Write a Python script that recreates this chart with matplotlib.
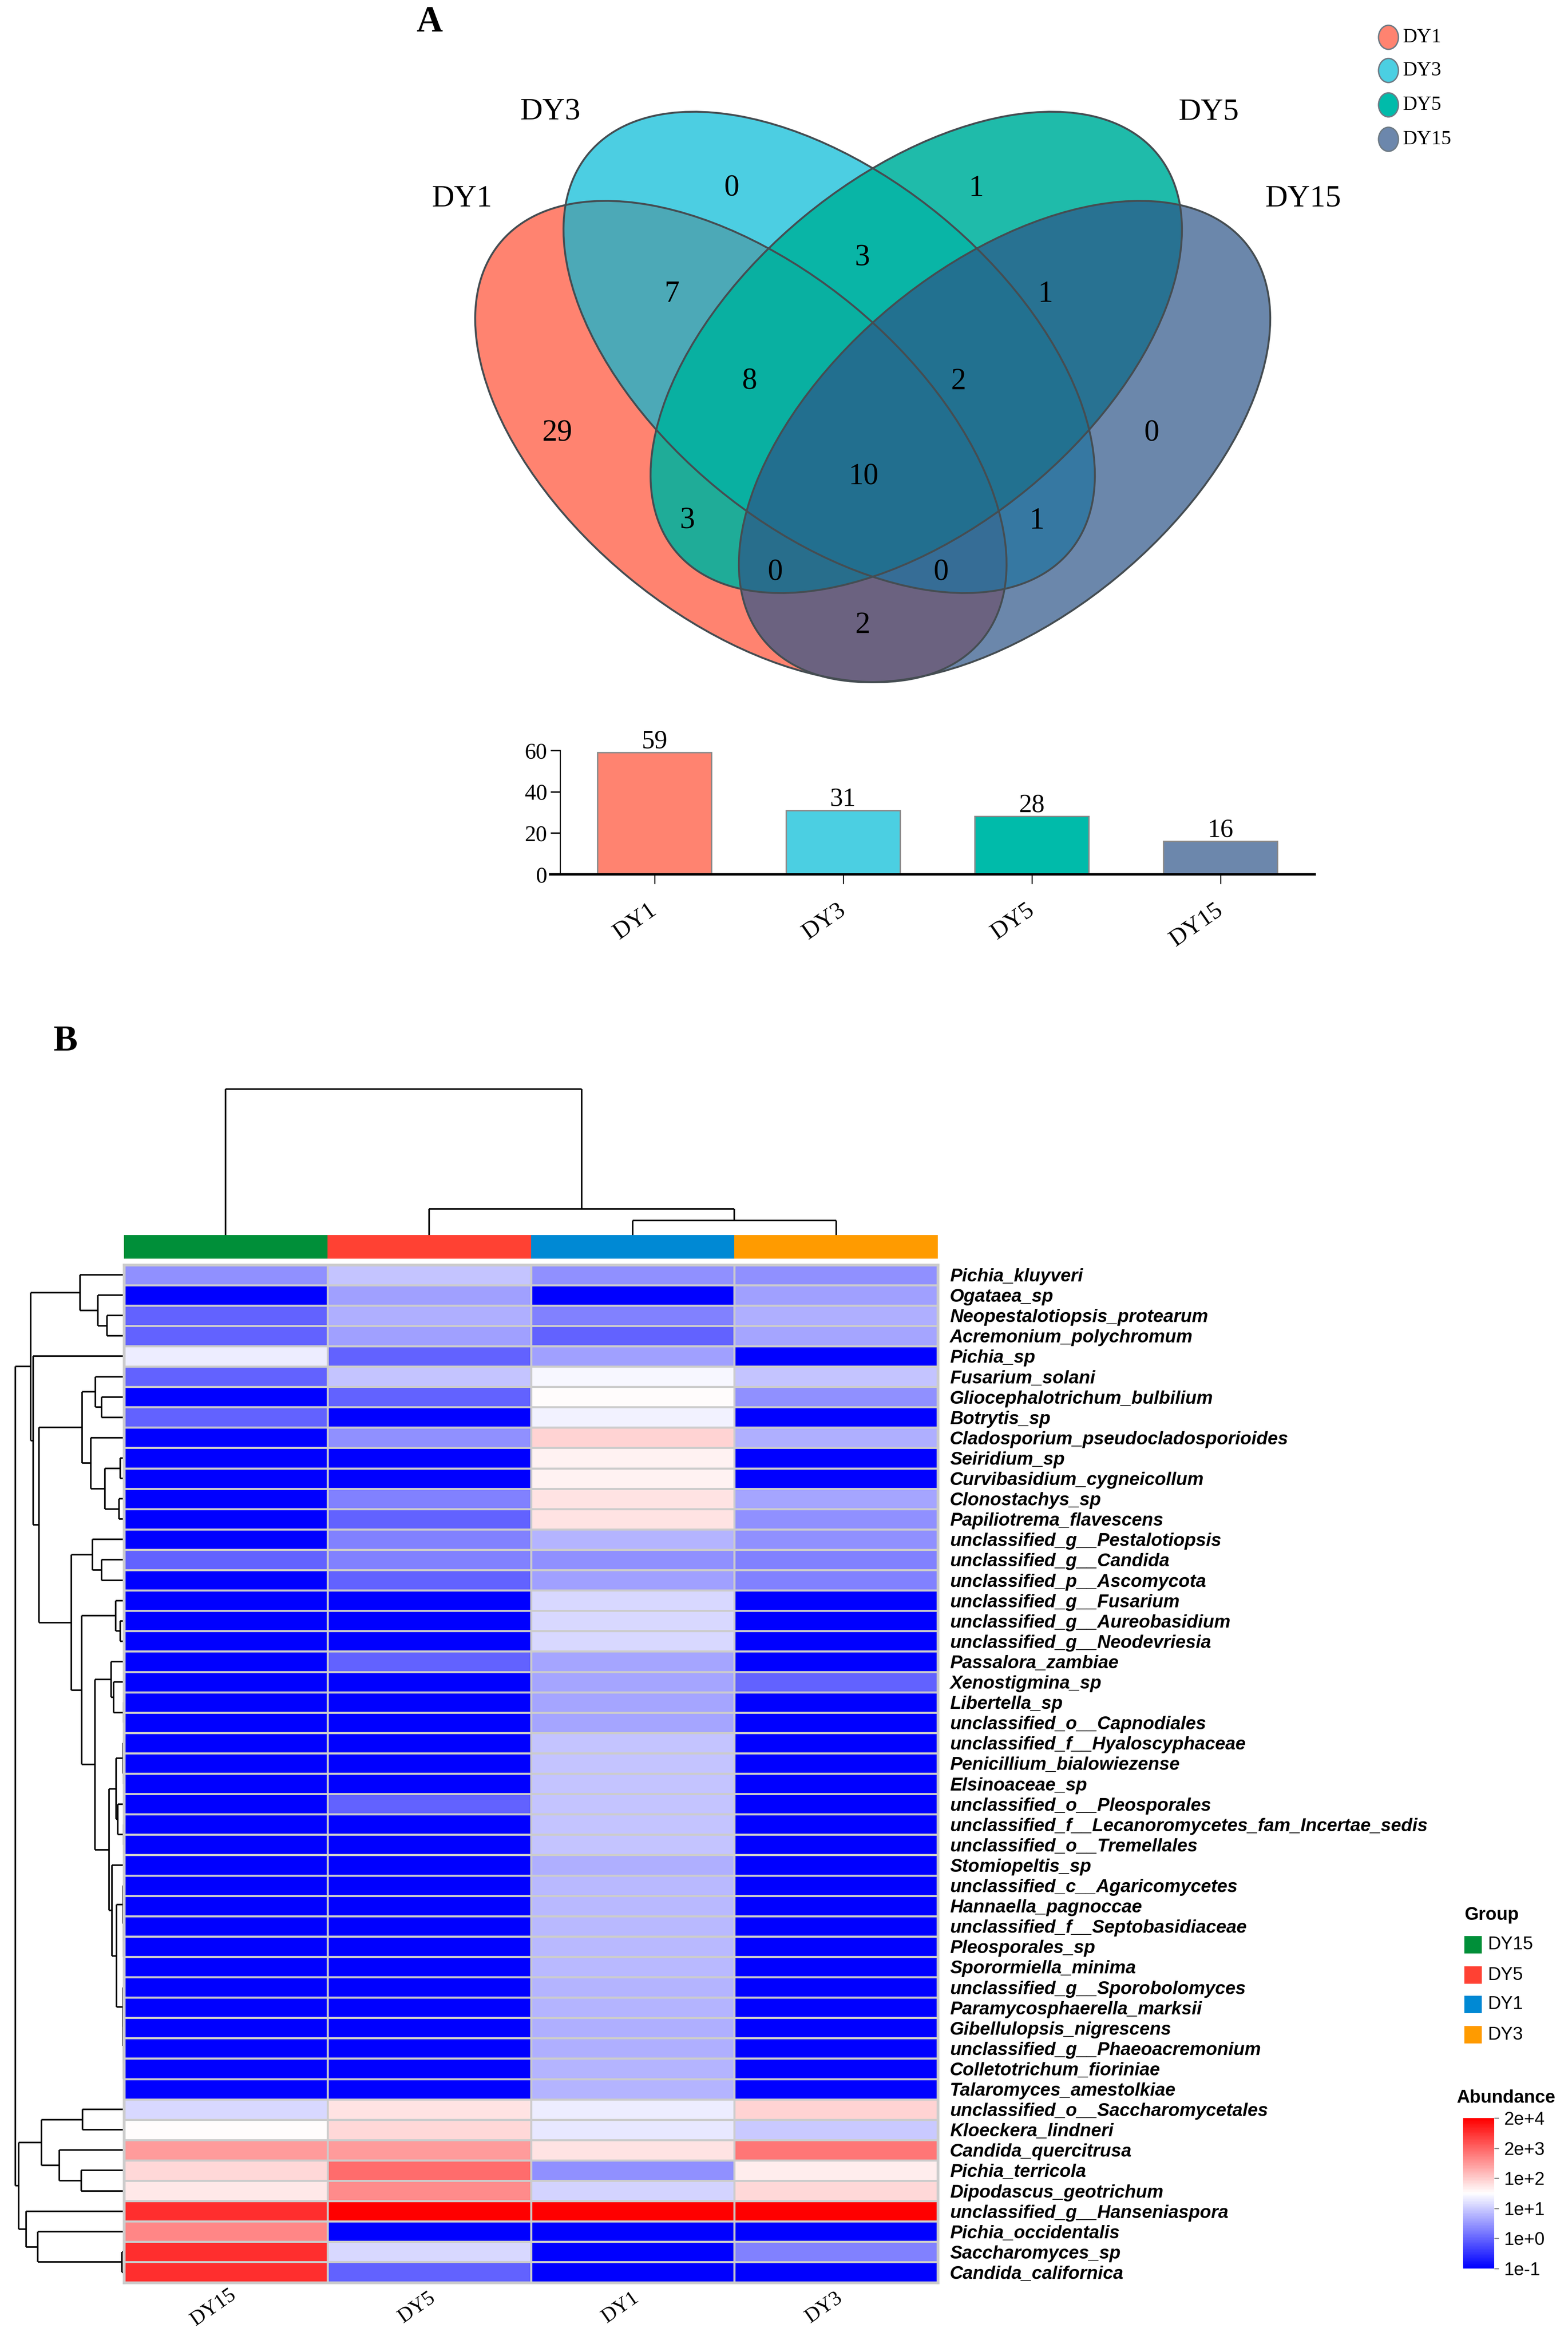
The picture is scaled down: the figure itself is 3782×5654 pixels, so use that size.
import numpy as np
import matplotlib
matplotlib.use("Agg")
import matplotlib.pyplot as plt
from matplotlib.patches import Ellipse, Rectangle
from matplotlib.colors import LinearSegmentedColormap, Normalize, to_rgb
from matplotlib.collections import LineCollection

# ---------------- DATA ----------------
venn_sets = ["DY1", "DY3", "DY5", "DY15"]
venn_colors = ["#FF8370", "#4BCFE2", "#00BBAA", "#6C87AC"]
venn_region_sets = [
    ("DY1",), ("DY3",), ("DY5",), ("DY15",),
    ("DY1", "DY3"), ("DY3", "DY5"), ("DY5", "DY15"),
    ("DY1", "DY5"), ("DY3", "DY15"), ("DY1", "DY15"),
    ("DY1", "DY3", "DY5"), ("DY3", "DY5", "DY15"),
    ("DY1", "DY5", "DY15"), ("DY1", "DY3", "DY15"),
    ("DY1", "DY3", "DY5", "DY15"),
]
venn_region_counts = [29, 0, 1, 0, 7, 3, 1, 3, 1, 2, 8, 2, 0, 0, 10]

bar_labels = ["DY1", "DY3", "DY5", "DY15"]
bar_values = [59, 31, 28, 16]

hm_columns = ["DY15", "DY5", "DY1", "DY3"]
group_colors = ["#008F39", "#FF4133", "#0089D4", "#FF9B00"]
hm_rows = [
    "Pichia_kluyveri", "Ogataea_sp", "Neopestalotiopsis_protearum", "Acremonium_polychromum",
    "Pichia_sp", "Fusarium_solani", "Gliocephalotrichum_bulbilium", "Botrytis_sp",
    "Cladosporium_pseudocladosporioides", "Seiridium_sp", "Curvibasidium_cygneicollum",
    "Clonostachys_sp", "Papiliotrema_flavescens", "unclassified_g__Pestalotiopsis",
    "unclassified_g__Candida", "unclassified_p__Ascomycota", "unclassified_g__Fusarium",
    "unclassified_g__Aureobasidium", "unclassified_g__Neodevriesia", "Passalora_zambiae",
    "Xenostigmina_sp", "Libertella_sp", "unclassified_o__Capnodiales",
    "unclassified_f__Hyaloscyphaceae", "Penicillium_bialowiezense", "Elsinoaceae_sp",
    "unclassified_o__Pleosporales", "unclassified_f__Lecanoromycetes_fam_Incertae_sedis",
    "unclassified_o__Tremellales", "Stomiopeltis_sp", "unclassified_c__Agaricomycetes",
    "Hannaella_pagnoccae", "unclassified_f__Septobasidiaceae", "Pleosporales_sp",
    "Sporormiella_minima", "unclassified_g__Sporobolomyces", "Paramycosphaerella_marksii",
    "Gibellulopsis_nigrescens", "unclassified_g__Phaeoacremonium", "Colletotrichum_fioriniae",
    "Talaromyces_amestolkiae", "unclassified_o__Saccharomycetales", "Kloeckera_lindneri",
    "Candida_quercitrusa", "Pichia_terricola", "Dipodascus_geotrichum",
    "unclassified_g__Hanseniaspora", "Pichia_occidentalis", "Saccharomyces_sp",
    "Candida_californica",
]
# colour-scale position (0 = 1e-1 ... 5 = 2e+4), columns DY15, DY5, DY1, DY3
hm_values = [
    [1.45, 1.92, 1.45, 1.45], [0.00, 1.55, 0.00, 1.55], [0.97, 1.70, 1.25, 1.70],
    [0.97, 1.55, 0.97, 1.65], [2.30, 0.97, 1.55, 0.00], [0.97, 1.92, 2.42, 1.92],
    [0.00, 0.97, 2.50, 1.45], [0.97, 0.00, 2.38, 0.00], [0.00, 1.45, 2.92, 1.70],
    [0.00, 0.00, 2.63, 0.00], [0.00, 0.00, 2.62, 0.00], [0.00, 1.25, 2.78, 1.65],
    [0.00, 0.97, 2.76, 1.45], [0.00, 1.25, 1.75, 1.45], [0.97, 1.25, 1.45, 1.25],
    [0.00, 0.97, 1.55, 1.25], [0.00, 0.00, 2.14, 0.00], [0.00, 0.00, 2.12, 0.00],
    [0.00, 0.00, 2.10, 0.00], [0.00, 0.97, 1.65, 0.00], [0.00, 0.00, 1.65, 0.97],
    [0.00, 0.00, 1.65, 0.00], [0.00, 0.00, 1.65, 0.00], [0.00, 0.00, 1.92, 0.00],
    [0.00, 0.00, 1.92, 0.00], [0.00, 0.00, 1.92, 0.00], [0.00, 0.97, 1.92, 0.00],
    [0.00, 0.00, 1.92, 0.00], [0.00, 0.00, 1.92, 0.00], [0.00, 0.00, 1.70, 0.00],
    [0.00, 0.00, 1.82, 0.00], [0.00, 0.00, 1.82, 0.00], [0.00, 0.00, 1.82, 0.00],
    [0.00, 0.00, 1.80, 0.00], [0.00, 0.00, 1.82, 0.00], [0.00, 0.00, 1.75, 0.00],
    [0.00, 0.00, 1.75, 0.00], [0.00, 0.00, 1.73, 0.00], [0.00, 0.00, 1.73, 0.00],
    [0.00, 0.00, 1.75, 0.00], [0.00, 0.00, 1.75, 0.00], [2.14, 2.76, 2.32, 2.92],
    [2.50, 2.86, 2.25, 1.96], [3.45, 3.45, 2.76, 3.82], [2.88, 3.90, 1.45, 2.67],
    [2.70, 3.60, 2.06, 2.88], [4.53, 5.00, 5.00, 5.00], [3.67, 0.00, 0.00, 0.00],
    [4.53, 2.14, 0.00, 1.25], [4.53, 0.97, 0.00, 0.00],
]
cbar_tick_labels = ["1e-1", "1e+0", "1e+1", "1e+2", "2e+3", "2e+4"]

# row dendrogram merges (left, right, height); leaves 0..49, new ids from 50
row_merges = [
    (2, 3, 41), (1, 50, 63), (0, 51, 106),
    (6, 7, 54), (5, 53, 69),
    (9, 10, 9), (11, 12, 12), (55, 56, 46), (8, 57, 80), (54, 58, 101),
    (14, 15, 54), (13, 60, 76),
    (17, 18, 9), (16, 62, 20),
    (21, 22, 1), (20, 64, 25), (19, 65, 31),
    (24, 25, 1), (23, 67, 2), (27, 28, 1), (26, 69, 15), (68, 70, 19),
    (33, 34, 0.5), (32, 72, 1), (31, 73, 1.5), (30, 74, 2),
    (39, 40, 0.5), (38, 76, 1), (37, 77, 1.5), (36, 78, 2), (35, 79, 2.5),
    (75, 80, 18), (29, 81, 29), (71, 82, 36), (66, 83, 70), (63, 84, 102),
    (61, 85, 127), (59, 86, 205), (4, 87, 219), (52, 88, 225),
    (41, 42, 100), (44, 45, 103), (43, 91, 156), (90, 92, 199),
    (48, 49, 5), (47, 94, 208), (46, 95, 236), (93, 96, 254),
    (89, 97, 262),
]
col_merges = [(2, 3, 35), (1, 4, 63), (0, 5, 352)]

# ---------------- LAYOUT ----------------
W, H = 3782, 5654
DPI = 300
SERIF = ["Liberation Serif", "DejaVu Serif"]
SANS = ["Liberation Sans", "DejaVu Sans"]

fig = plt.figure(figsize=(W / DPI, H / DPI), dpi=DPI)
fig.patch.set_facecolor("white")


def px_axes(x0, y0, x1, y1, **kw):
    return fig.add_axes([x0 / W, 1 - y1 / H, (x1 - x0) / W, (y1 - y0) / H], **kw)


canvas = px_axes(0, 0, W, H)
canvas.set_xlim(0, W)
canvas.set_ylim(H, 0)
canvas.axis("off")

# ---- Panel labels
canvas.text(1036, 54, "A", family=SERIF, weight="bold", fontsize=21, ha="center", va="center")
canvas.text(158, 2513, "B", family=SERIF, weight="bold", fontsize=21, ha="center", va="center")

# ---- Venn diagram
ell_centers = [(1787, 1065), (2000, 850), (2210, 850), (2423, 1065)]
ell_angles = [39.5, 39.5, -39.5, -39.5]
ell_w, ell_h = 2 * 753, 2 * 425
ell_alpha = [0.7, 0.7, 0.88, 0.7]
for c, (cx, cy), ang, a in zip(venn_colors, ell_centers, ell_angles, ell_alpha):
    s = np.array(to_rgb(c))
    base = np.clip((s - (1 - a)) / a, 0, 1)
    canvas.add_patch(Ellipse((cx, cy), ell_w, ell_h, angle=ang, facecolor=base,
                             alpha=a, edgecolor="none", zorder=2))
for (cx, cy), ang in zip(ell_centers, ell_angles):
    canvas.add_patch(Ellipse((cx, cy), ell_w, ell_h, angle=ang, facecolor="none",
                             edgecolor="#454D52", lw=1.1, zorder=3))

venn_label_pos = [(1115, 480), (1328, 271), (2916, 271), (3143, 480)]
for name, (x, y) in zip(venn_sets, venn_label_pos):
    canvas.text(x, y, name, family=SERIF, fontsize=18, ha="center", va="center", zorder=4)

region_pos = [
    (1344, 1046), (1764, 455), (2355, 455), (2777, 1046),
    (1620, 710), (2080, 623), (2522, 710),
    (1658, 1257), (2501, 1257), (2081, 1509),
    (1807, 921), (2312, 921),
    (1869, 1382), (2269, 1382),
    (2083, 1151),
]
for cnt, (x, y) in zip(venn_region_counts, region_pos):
    canvas.text(x, y, str(cnt), family=SERIF, fontsize=17.5, ha="center", va="center", zorder=4)

legend_y = [90, 170, 253, 336]
for name, c, y in zip(venn_sets, venn_colors, legend_y):
    canvas.add_patch(Ellipse((3349, y), 48, 58, facecolor=c, edgecolor="#6E7B85", lw=0.8, zorder=4))
    canvas.text(3384, y, name, family=SERIF, fontsize=11.5, ha="left", va="center", zorder=4)

# ---- Bar chart
axb = px_axes(1327, 1810, 3171, 2109)
xb = np.arange(len(bar_values))
axb.bar(xb, bar_values, width=0.604, color=venn_colors, edgecolor="#8A8A8A", linewidth=0.8)
axb.set_xlim(-0.553, 3.5)
axb.set_ylim(0, 60)
axb.spines["left"].set_position(("data", -0.5))
axb.set_yticks([0, 20, 40, 60])
axb.set_yticklabels(["0", "20", "40", "60"], family=SERIF, fontsize=13)
axb.set_xticks(xb)
axb.set_xticklabels(bar_labels, family=SERIF, fontsize=14, rotation=35, ha="right",
                    va="center", rotation_mode="anchor")
axb.tick_params(axis="y", direction="out", length=5.5, width=0.8, pad=2)
axb.tick_params(axis="x", direction="out", length=5.5, width=0.6, pad=14)
for sp in ["top", "right"]:
    axb.spines[sp].set_visible(False)
axb.spines["left"].set_linewidth(0.6)
axb.spines["bottom"].set_linewidth(1.4)
for i, v in enumerate(bar_values):
    axb.text(i, v + 2.2, str(v), family=SERIF, fontsize=15, ha="center", va="baseline")


# ---------------- Panel B ----------------
def dendro_segments(n_leaves, merges):
    pos = {i: float(i) for i in range(n_leaves)}
    hgt = {i: 0.0 for i in range(n_leaves)}
    segs = []
    for k, (a, b, h) in enumerate(merges):
        nid = n_leaves + k
        pa, pb = pos[a], pos[b]
        segs.append([(pa, hgt[a]), (pa, h)])
        segs.append([(pb, hgt[b]), (pb, h)])
        segs.append([(pa, h), (pb, h)])
        pos[nid] = (pa + pb) / 2.0
        hgt[nid] = h
    return segs


HM_X0, HM_X1, HM_Y0, HM_Y1 = 299, 2262, 3050.5, 5505.5
n_rows, n_cols = len(hm_rows), len(hm_columns)

# column dendrogram
axcd = px_axes(HM_X0, 2627, HM_X1, 2979)
csegs = dendro_segments(n_cols, col_merges)
axcd.add_collection(LineCollection(csegs, colors="black", linewidths=0.9, clip_on=False))
axcd.set_xlim(-0.5, n_cols - 0.5)
axcd.set_ylim(0, 352)
axcd.axis("off")

# group annotation bar
axan = px_axes(HM_X0, 2979, HM_X1, 3036)
for i, c in enumerate(group_colors):
    axan.add_patch(Rectangle((i - 0.5, 0), 1, 1, facecolor=c, edgecolor="none"))
axan.set_xlim(-0.5, n_cols - 0.5)
axan.set_ylim(0, 1)
axan.axis("off")

# row dendrogram
axrd = px_axes(0, HM_Y0, HM_X0, HM_Y1)
rsegs = dendro_segments(n_rows, row_merges)
rsegs = [[(h, p) for (p, h) in s] for s in rsegs]
axrd.add_collection(LineCollection(rsegs, colors="black", linewidths=0.9, clip_on=False))
axrd.set_xlim(HM_X0, 0)
axrd.set_ylim(n_rows - 0.5, -0.5)
axrd.axis("off")

# heatmap
cmap = LinearSegmentedColormap.from_list("bwr_ph", ["#0000FF", "#FFFFFF", "#FF0000"], N=100)
norm = Normalize(vmin=0, vmax=5)
axh = px_axes(HM_X0, HM_Y0, HM_X1, HM_Y1)
mesh = axh.pcolormesh(np.array(hm_values), cmap=cmap, norm=norm, edgecolors="#CCCCCC",
                      linewidth=1.1)
axh.set_xlim(0, n_cols)
axh.set_ylim(n_rows, 0)
for sp in axh.spines.values():
    sp.set_color("#CCCCCC")
    sp.set_linewidth(1.6)
axh.yaxis.tick_right()
axh.set_yticks(np.arange(n_rows) + 0.5)
axh.set_yticklabels(hm_rows, family=SANS, weight="bold", style="italic", fontsize=10.6)
axh.tick_params(axis="y", length=0, pad=7)
axh.set_xticks([])

# column labels
col_w = (HM_X1 - HM_X0) / n_cols
for i, name in enumerate(hm_columns):
    canvas.text(HM_X0 + (i + 0.5) * col_w - 30, 5566, name, family=SERIF, fontsize=12,
                rotation=35, ha="center", va="center")

# group legend
canvas.text(3532, 4620, "Group", family=SANS, weight="bold", fontsize=10.5, ha="left", va="center")
leg_y = [4691, 4764, 4835, 4908]
for name, c, y in zip(hm_columns, group_colors, leg_y):
    canvas.add_patch(Rectangle((3532, y - 21), 42, 42, facecolor=c, edgecolor="none"))
    canvas.text(3588, y, name, family=SANS, fontsize=10.5, ha="left", va="center")

# colour bar
canvas.text(3514, 5060, "Abundance", family=SANS, weight="bold", fontsize=10.5, ha="left", va="center")
cax = px_axes(3529, 5109, 3604, 5472)
cb = fig.colorbar(mesh, cax=cax, orientation="vertical")
cb.outline.set_visible(False)
cb.set_ticks(np.arange(6))
cb.set_ticklabels(cbar_tick_labels)
cax.tick_params(length=2.6, width=0.6, color="#808080", pad=3)
for t in cax.get_yticklabels():
    t.set_family(SANS)
    t.set_fontsize(10.5)

fig.savefig("out.png", dpi=DPI)
